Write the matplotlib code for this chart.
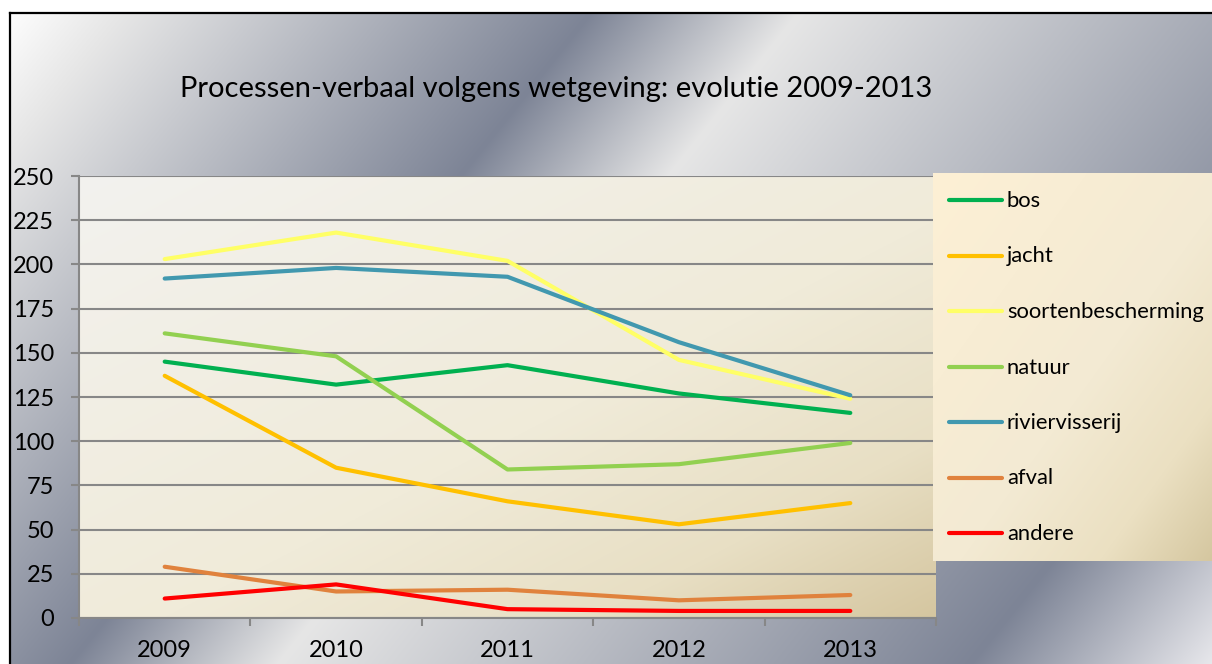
import numpy as np
import matplotlib
matplotlib.use("Agg")
import matplotlib.pyplot as plt
from matplotlib.colors import to_rgb
from matplotlib.lines import Line2D

plt.rcParams['font.family'] = ['Lato', 'DejaVu Sans']

# data
years = ['2009', '2010', '2011', '2012', '2013']
bos = [145, 132, 143, 127, 116]
jacht = [137, 85, 66, 53, 65]
soortenbescherming = [203, 218, 202, 146, 124]
natuur = [161, 148, 84, 87, 99]
riviervisserij = [192, 198, 193, 156, 126]
afval = [29, 15, 16, 10, 13]
andere = [11, 19, 5, 4, 4]

series = [
    ('bos', bos, '#00B050'),
    ('jacht', jacht, '#FFC000'),
    ('soortenbescherming', soortenbescherming, '#FFFF66'),
    ('natuur', natuur, '#92D050'),
    ('riviervisserij', riviervisserij, '#4198AF'),
    ('afval', afval, '#E0823D'),
    ('andere', andere, '#FF0000'),
]
yticks = [0, 25, 50, 75, 100, 125, 150, 175, 200, 225, 250]

W, H = 1212, 664


def gradient(t, stops):
    pos = [s[0] for s in stops]
    cols = np.array([to_rgb(s[1]) for s in stops])
    out = np.zeros(t.shape + (3,))
    for c in range(3):
        out[..., c] = np.interp(t, pos, cols[:, c])
    return out


fig = plt.figure(figsize=(W / 100, H / 100), dpi=100)
fig.patch.set_facecolor('white')

# metallic chart background
bg = fig.add_axes([10 / W, 0, 1 - 10 / W, (H - 13) / H])
bg.axis('off')
X, Y = np.meshgrid(np.arange(10, W), np.arange(13, H))
u = (X + 0.8 * (Y - 15)) / 1732.0
silver = [(0.0, '#FFFFFF'), (0.07, '#E6E6E6'), (0.34, '#7D8496'),
          (0.46, '#E6E6E6'), (0.86, '#7D8496'), (1.0, '#E8E8EC')]
bg.imshow(gradient(u, silver), aspect='auto', extent=(0, 1, 0, 1),
          interpolation='bilinear')
bg.set_xlim(0, 1)
bg.set_ylim(0, 1)

# black border at left and top
fig.add_artist(Line2D([10 / W, 10 / W], [0, 1 - 13 / H], color='black', lw=1.6))
fig.add_artist(Line2D([10 / W, 1], [1 - 13 / H, 1 - 13 / H], color='black', lw=1.6))

# plot area
ax = fig.add_axes([79 / W, 1 - 618 / H, 857 / W, 442 / H])
gx, gy = np.meshgrid(np.linspace(0, 1, 300), np.linspace(0, 1, 200))
tp = (gx + gy) / 2
plot_bg = gradient(tp, [(0.0, '#F3F2EF'), (0.55, '#F0EBD9'), (0.8, '#E8DFC4'), (1.0, '#D5C6A0')])
ax.imshow(plot_bg, aspect='auto', extent=(0, 1, 0, 1), transform=ax.transAxes,
          zorder=0, interpolation='bilinear')

x = np.arange(len(years))
for name, vals, col in series:
    ax.plot(x, vals, color=col, lw=3, solid_capstyle='round', zorder=3)

ax.set_xlim(-0.5, len(years) - 0.5)
ax.set_ylim(0, 250)
ax.set_yticks(yticks)
ax.set_xticks(x)
ax.set_xticklabels(years)
ax.set_xticks(np.arange(-0.5, len(years)), minor=True)
ax.set_axisbelow(True)
ax.yaxis.grid(True, color='#878787', lw=1.5)
for s in ['top', 'right']:
    ax.spines[s].set_visible(False)
for s in ['left', 'bottom']:
    ax.spines[s].set_color('#878787')
    ax.spines[s].set_linewidth(1.5)
ax.tick_params(axis='y', length=6, width=1.5, color='#878787', pad=12,
               labelsize=17)
ax.tick_params(axis='x', which='major', length=0, pad=16, labelsize=17)
ax.tick_params(axis='x', which='minor', length=6, width=1.5, color='#878787')

# legend box
lg = fig.add_axes([933 / W, 1 - 561 / H, (W - 933) / W, (561 - 173) / H])
lg.imshow(gradient(tp, [(0.0, '#FDF0D5'), (0.55, '#F3EAD3'), (0.8, '#EBE0C2'), (1.0, '#D5C7A0')]),
          aspect='auto', extent=(0, 1, 0, 1), transform=lg.transAxes, zorder=0,
          interpolation='bilinear')
lg.set_xlim(933, W)
lg.set_ylim(561, 173)
lg.axis('off')
for i, (name, vals, col) in enumerate(series):
    yy = 200 + i * 55.5
    lg.plot([949, 1002], [yy, yy], color=col, lw=3, solid_capstyle='round')
    lg.text(1007, yy + 1, name, fontsize=15.8, va='center', ha='left')

fig.text(556 / W, 1 - 89 / H, 'Processen-verbaal volgens wetgeving: evolutie 2009-2013',
         fontsize=21, ha='center', va='center')

fig.savefig('out.png', dpi=100)
